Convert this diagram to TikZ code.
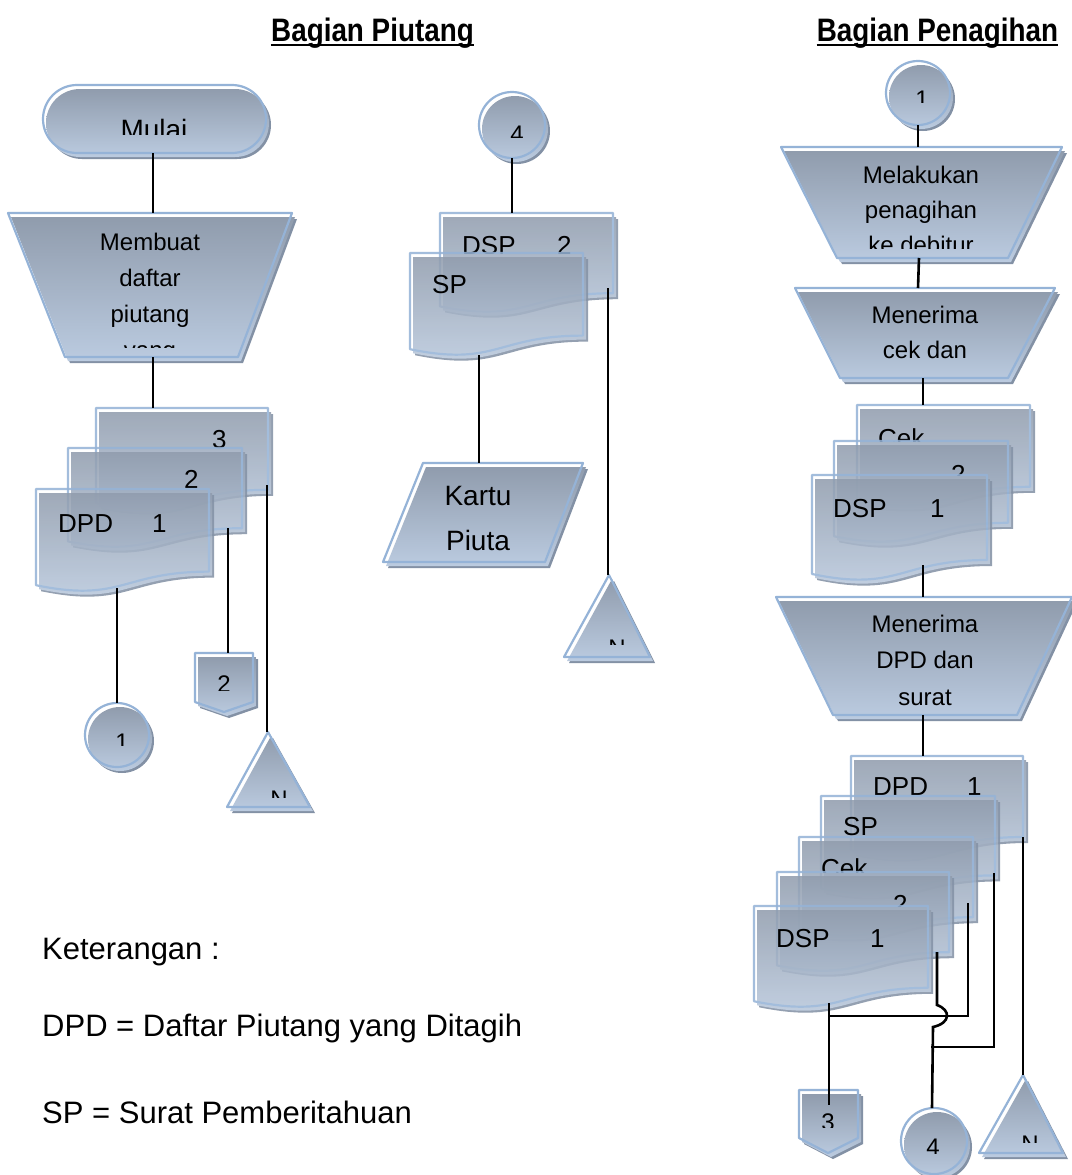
\documentclass[tikz,border=0pt]{standalone}
\usepackage{fontspec}
\setmainfont{Liberation Sans}
\definecolor{rimblue}{HTML}{95B3D7}
\definecolor{bodytop}{HTML}{909CAD}
\definecolor{bodybot}{HTML}{BBCBE0}
\definecolor{dropgray}{HTML}{8391A5}

% three layers of every flowchart symbol: drop shadow, shaded body, outline
\newcommand\tri[2]{%
  \begin{scope}[#1]
  \path[drop,shift={(5,6)}] #2;
  \path[body,shift={(3,4)}] #2;
  \path[rim] #2;
  \end{scope}}
% document symbol with wavy lower edge: opts, x, y, width, height
\newcommand\flowdoc[5][]{\tri{#1}{(#2,#3) -- ({#2+#4},#3) -- ({#2+#4},{#3+0.802*#5})
  .. controls ({#2+0.5*#4},{#3+0.802*#5}) and ({#2+0.5*#4},{#3+1.107*#5}) .. (#2,{#3+0.934*#5}) -- cycle}}

\tikzset{
  rim/.style={draw=rimblue, line width=2.2pt, line join=round},
  body/.style={top color=bodytop, bottom color=bodybot},
  drop/.style={fill=dropgray},
  sheet/.style={transparency group, opacity=0.86},
  link/.style={draw=black, line width=2.6pt},
  tag/.style={inner sep=0pt, anchor=base, font=\fontsize{24}{24}\selectfont},
  doclbl/.style={inner sep=0pt, anchor=base west, font=\fontsize{26}{26}\selectfont},
  steptext/.style={inner sep=0pt, anchor=base, font=\fontsize{24}{36}\selectfont},
  bigtext/.style={inner sep=0pt, anchor=base, font=\fontsize{28}{28}\selectfont},
  legend/.style={inner sep=0pt, anchor=base west, font=\fontsize{31}{31}\selectfont},
  heading/.style={inner sep=0pt, anchor=base, font=\fontsize{29}{29}\selectfont\bfseries},
}

\begin{document}
\begin{tikzpicture}[x=1pt,y=-1pt]
\useasboundingbox (0,0) rectangle (1071,1175);
\fill[white] (0,0) rectangle (1071,1175);

% ---------- headings ----------
\node[heading] (hPiutang) at (372.5,41) {\scalebox{0.96}[1.12]{Bagian Piutang}};
\node[heading] (hTagih) at (937.5,41) {\scalebox{0.96}[1.12]{Bagian Penagihan}};
\draw[line width=1.6pt] ([yshift=-4pt]hPiutang.base west) -- ([yshift=-4pt]hPiutang.base east);
\draw[line width=1.6pt] ([yshift=-4pt]hTagih.base west) -- ([yshift=-4pt]hTagih.base east);

% ---------- Bagian Piutang, left column ----------
\tri{rounded corners=34pt}{(43,85) rectangle (266,153)}
\begin{scope}\clip (43,85) rectangle (266,134);
  \node[bigtext] (tMulai) at (154,139) {Mulai};
\end{scope}

\tri{}{(8,213) -- (292,213) -- (238,357) -- (65,357) -- cycle}
\begin{scope}\clip (20,213) rectangle (290,347);
  \node[steptext] (tBuat1) at (150,250) {Membuat};
  \node[steptext] (tBuat2) at (150,286) {daftar};
  \node[steptext] (tBuat3) at (150,322) {piutang};
  \node[steptext] (tBuat4) at (150,358) {yang};
\end{scope}

\flowdoc[sheet]{96}{408}{172}{102}
\begin{scope}\clip (96,408) rectangle (268,448);
  \node[doclbl] (lA3) at (212,448) {3};
\end{scope}
\flowdoc[sheet]{68}{448}{174}{100}
\begin{scope}\clip (68,448) rectangle (242,489);
  \node[doclbl] (lA2) at (184,488) {2};
\end{scope}
\flowdoc[sheet]{36}{489}{173}{103}
\node[doclbl] (lA1a) at (58,532) {DPD};
\node[doclbl] (lA1b) at (152,532) {1};

\tri{}{(117,735) circle[radius=32]}
\begin{scope}\clip (80,700) rectangle (155,745);
  \node[tag] (tC1) at (122,750) {1};
\end{scope}
\tri{}{(195,653) -- (253,653) -- (253,702) -- (224,712) -- (195,702) -- cycle}
\begin{scope}\clip (195,653) rectangle (253,690);
  \node[tag] (tP2) at (224,692) {2};
\end{scope}
\tri{}{(268,732) -- (310,807) -- (227,807) -- cycle}
\begin{scope}\clip (227,732) rectangle (310,797);
  \node[tag] (tN1) at (279,807) {N};
\end{scope}

\coordinate (mulaiS) at (153,153);
\coordinate (buatN) at (153,213);
\coordinate (buatS) at (153,357);
\coordinate (docA3N) at (153,408);
\coordinate (docA1S) at (117,588);
\coordinate (conA1N) at (117,703);
\coordinate (docA2R) at (228,528);
\coordinate (offA2N) at (228,653);
\coordinate (docA3R) at (267,485);
\coordinate (storA) at (267,732);
\draw[link] (mulaiS) -- (buatN);
\draw[link] (buatS) -- (docA3N);
\draw[link] (docA1S) -- (conA1N);
\draw[link] (docA2R) -- (offA2N);
\draw[link] (docA3R) -- (storA);

% ---------- Bagian Piutang, middle column ----------
\tri{}{(512,125) circle[radius=33]}
\begin{scope}\clip (475,90) rectangle (550,137);
  \node[tag] (tC4) at (517,142) {4};
\end{scope}

\flowdoc[sheet]{440}{213}{173}{100}
\begin{scope}\clip (440,213) rectangle (613,253);
  \node[doclbl] (lDSPa) at (462,254) {DSP};
  \node[doclbl] (lDSPb) at (557,254) {2};
\end{scope}
\flowdoc[sheet]{410}{253}{173}{103}
\node[doclbl] (lSP) at (432,293) {SP};

\tri{}{(423,463) -- (583,463) -- (545,562) -- (383,562) -- cycle}
\node[bigtext] (tKartu1) at (478,505) {Kartu};
\node[bigtext] (tKartu2) at (478,550) {Piuta};

\tri{}{(609,575) -- (650,657) -- (564,657) -- cycle}
\begin{scope}\clip (564,575) rectangle (650,644);
  \node[tag] (tN2) at (617,656) {N};
\end{scope}

\coordinate (conB4S) at (512,158);
\coordinate (docBN) at (512,213);
\coordinate (docSPS) at (479,355);
\coordinate (kartuN) at (479,463);
\coordinate (docBR) at (608,288);
\coordinate (storB) at (608,575);
\draw[link] (conB4S) -- (docBN);
\draw[link] (docSPS) -- (kartuN);
\draw[link] (docBR) -- (storB);

% ---------- Bagian Penagihan ----------
\tri{}{(918,93) circle[radius=32]}
\begin{scope}\clip (880,55) rectangle (955,102);
  \node[tag] (tC1r) at (922,107) {1};
\end{scope}

\tri{}{(781,147) -- (1062,147) -- (1008,258) -- (837,258) -- cycle}
\begin{scope}\clip (790,147) rectangle (1060,248);
  \node[steptext] (tTagih1) at (921,183) {Melakukan};
  \node[steptext] (tTagih2) at (921,218) {penagihan};
  \node[steptext] (tTagih3) at (921,253) {ke debitur};
\end{scope}

\tri{}{(795,288) -- (1055,288) -- (1008,378) -- (840,378) -- cycle}
\node[steptext] (tCek1) at (925,323) {Menerima};
\node[steptext] (tCek2) at (925,358) {cek dan};

\flowdoc[sheet]{857}{405}{173}{102}
\begin{scope}\clip (857,405) rectangle (1030,441);
  \node[doclbl] (lR1c) at (878,447) {Cek};
\end{scope}
\flowdoc[sheet]{834}{441}{174}{102}
\begin{scope}\clip (834,441) rectangle (1008,475);
  \node[doclbl] (lR12) at (951,483) {2};
\end{scope}
\flowdoc[sheet]{812}{475}{175}{106}
\node[doclbl] (lR1d) at (833,517) {DSP};
\node[doclbl] (lR1e) at (930,517) {1};

\tri{}{(776,597) -- (1072,597) -- (1017,715) -- (833,715) -- cycle}
\node[steptext] (tDpd1) at (925,632) {Menerima};
\node[steptext] (tDpd2) at (925,668) {DPD dan};
\node[steptext] (tDpd3) at (925,705) {surat};

\flowdoc[sheet]{851}{756}{172}{101}
\begin{scope}\clip (851,756) rectangle (1023,796);
  \node[doclbl] (lR2a) at (873,795) {DPD};
  \node[doclbl] (lR2b) at (967,795) {1};
\end{scope}
\flowdoc[sheet]{821}{796}{174}{99}
\begin{scope}\clip (821,796) rectangle (995,837);
  \node[doclbl] (lR2c) at (843,835) {SP};
\end{scope}
\flowdoc[sheet]{799}{837}{174}{100}
\begin{scope}\clip (799,837) rectangle (973,872);
  \node[doclbl] (lR2d) at (821,877) {Cek};
\end{scope}
\flowdoc[sheet]{777}{872}{172}{100}
\begin{scope}\clip (777,872) rectangle (949,906);
  \node[doclbl] (lR2e) at (893,913) {2};
\end{scope}
\flowdoc[sheet]{754}{906}{174}{102}
\node[doclbl] (lR2f) at (776,947) {DSP};
\node[doclbl] (lR2g) at (870,947) {1};

\tri{}{(799,1090) -- (858,1090) -- (858,1138) -- (828,1153) -- (799,1138) -- cycle}
\begin{scope}\clip (799,1090) rectangle (858,1127);
  \node[tag] (tP3) at (828,1130) {3};
\end{scope}
\tri{}{(934,1141) circle[radius=33]}
\begin{scope}\clip (898,1105) rectangle (970,1153);
  \node[tag] (tC4r) at (933,1155) {4};
\end{scope}
\tri{}{(1023,1075) -- (1063,1153) -- (979,1153) -- cycle}
\begin{scope}\clip (979,1075) rectangle (1063,1142);
  \node[tag] (tN3) at (1030,1152) {N};
\end{scope}

\coordinate (conR1S) at (918,125);
\coordinate (tagihN) at (918,147);
\coordinate (tagihS) at (919,258);
\coordinate (cekN) at (918,288);
\coordinate (cekS) at (923,378);
\coordinate (stackN) at (923,405);
\coordinate (stackS) at (923,565);
\coordinate (dpdN) at (923,597);
\coordinate (dpdS) at (923,715);
\coordinate (stack2N) at (923,756);
\coordinate (docDpdR) at (1023,837);
\coordinate (storC) at (1023,1075);
\coordinate (docSpR) at (994,873);
\coordinate (joinSp) at (931,1047);
\coordinate (docCekR) at (968,903);
\coordinate (joinCek) at (829,1016);
\coordinate (docTwoR) at (937,952);
\coordinate (hopIn) at (937,1005);
\coordinate (hopOut) at (933,1027);
\coordinate (conR4N) at (932,1108);
\coordinate (docDspS) at (829,1003);
\coordinate (offR3) at (829,1105);

\draw[link] (conR1S) -- (tagihN);
\draw[link] (tagihS) -- (cekN);
\draw[link] (cekS) -- (stackN);
\draw[link] (stackS) -- (dpdN);
\draw[link] (dpdS) -- (stack2N);
\draw[link] (docDpdR) -- (storC);
\draw[link] (docSpR) |- (joinSp);
\draw[link] (docCekR) |- (joinCek);
\draw[link] (docTwoR) -- (hopIn) .. controls (951,1010) and (951,1023) .. (hopOut) -- (conR4N);
\draw[link] (docDspS) -- (offR3);

% ---------- legend ----------
\node[legend] (kTitle) at (42,959) {Keterangan :};
\node[legend] (kDpd) at (42,1036) {DPD = Daftar Piutang yang Ditagih};
\node[legend] (kSp) at (42,1123) {SP = Surat Pemberitahuan};
\end{tikzpicture}
\end{document}
